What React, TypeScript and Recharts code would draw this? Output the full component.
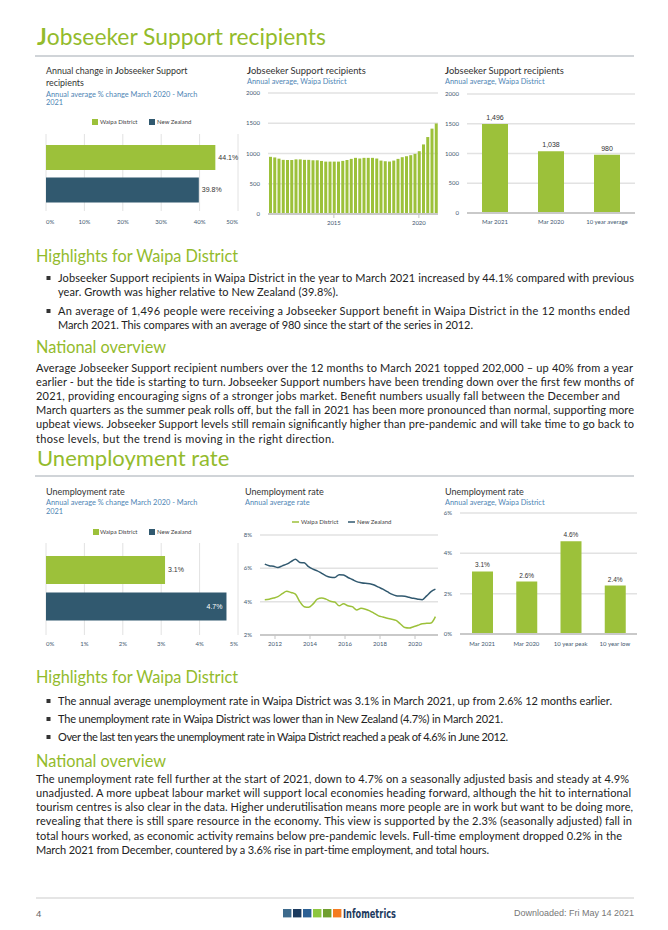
import React from 'react';
import { BarChart, Bar, XAxis, YAxis, CartesianGrid, Cell, LineChart, Line } from 'recharts';

// ---------- DATA ----------
const changeCategories = ['Waipa District', 'New Zealand'];
const jobseekerChange = [44.1, 39.8];
const changeTicks = [0, 10, 20, 30, 40, 50];

const quarters = [
  'Jun 2011', 'Sep 2011', 'Dec 2011', 'Mar 2012', 'Jun 2012', 'Sep 2012', 'Dec 2012', 'Mar 2013',
  'Jun 2013', 'Sep 2013', 'Dec 2013', 'Mar 2014', 'Jun 2014', 'Sep 2014', 'Dec 2014', 'Mar 2015',
  'Jun 2015', 'Sep 2015', 'Dec 2015', 'Mar 2016', 'Jun 2016', 'Sep 2016', 'Dec 2016', 'Mar 2017',
  'Jun 2017', 'Sep 2017', 'Dec 2017', 'Mar 2018', 'Jun 2018', 'Sep 2018', 'Dec 2018', 'Mar 2019',
  'Jun 2019', 'Sep 2019', 'Dec 2019', 'Mar 2020', 'Jun 2020', 'Sep 2020', 'Dec 2020', 'Mar 2021',
];
const jobseekerCounts = [
  945, 935, 915, 895, 893, 893, 903, 903, 895, 895,
  888, 888, 877, 866, 866, 866, 866, 878, 893, 911,
  928, 917, 928, 928, 928, 917, 883, 872, 867, 883,
  911, 939, 955, 972, 994, 1038, 1150, 1272, 1411, 1496,
];
const jobseekerYearTicks = ['Mar 2015', 'Mar 2020'];
const countTicks = [0, 500, 1000, 1500, 2000];

const summaryCategories = ['Mar 2021', 'Mar 2020', '10 year average'];
const summaryValues = [1496, 1038, 980];

const unempChange = [3.1, 4.7];
const unempChangeTicks = [0, 1, 2, 3, 4, 5];

const waipaRate = [
  4.12, 4.15, 4.22, 4.3, 4.48, 4.62, 4.55, 4.45, 4.0, 3.7,
  3.66, 3.85, 4.15, 4.22, 4.15, 4.02, 3.98, 3.75, 3.88, 3.75,
  3.7, 3.5, 3.6, 3.55, 3.45, 3.3, 3.15, 3.08, 3.0, 2.95,
  2.88, 2.66, 2.45, 2.42, 2.5, 2.58, 2.68, 2.7, 2.72, 3.1,
];
const nzRate = [
  6.25, 6.15, 6.12, 6.05, 6.15, 6.25, 6.4, 6.55, 6.35, 6.33,
  6.1, 5.95, 5.85, 5.7, 5.55, 5.47, 5.45, 5.62, 5.6, 5.45,
  5.33, 5.2, 5.14, 5.1, 5.08, 5.0, 4.87, 4.75, 4.6, 4.45,
  4.36, 4.34, 4.32, 4.26, 4.2, 4.15, 4.12, 4.35, 4.6, 4.75,
];
const rateYearTicks = [2012, 2014, 2016, 2018, 2020];
const rateTicks = [2, 4, 6, 8];

const unempSummaryCategories = ['Mar 2021', 'Mar 2020', '10 year peak', '10 year low'];
const unempSummaryValues = [3.1, 2.6, 4.6, 2.4];
const unempSummaryTicks = [0, 2, 4, 6];

// ---------- STYLE ----------
const GREEN = '#9cc13a';
const HEAD_GREEN = '#93bb2c';
const NAVY = '#31596f';
const SUB = '#4f86b5';
const TITLE = '#333333';
const BODY = '#222222';
const TICK = '#3f5870';
const GRID = '#e2e2e2';
const FONT = 'Lato, "Open Sans", sans-serif';
const ARIAL = '"Liberation Sans", Arial, sans-serif';

const monthNum: Record<string, number> = { Mar: 3, Jun: 6, Sep: 9, Dec: 12 };
const toYear = (q: string) => Number(q.slice(4)) + (monthNum[q.slice(0, 3)] - 1) / 12;

const changeData = changeCategories.map((name, i) => ({ name, v: jobseekerChange[i] }));
const unempData = changeCategories.map((name, i) => ({ name, v: unempChange[i] }));
const jobData = quarters.map((q, i) => ({ q, v: jobseekerCounts[i] }));
const summaryData = summaryCategories.map((name, i) => ({ name, v: summaryValues[i] }));
const rateData = quarters.map((q, i) => ({ t: toYear(q), w: waipaRate[i], n: nzRate[i] }));
const unempSummaryData = unempSummaryCategories.map((name, i) => ({ name, v: unempSummaryValues[i] }));

const tickStyle = { fontSize: 6, fill: TICK, fontFamily: FONT };

const EdgeTick = (last: number) => (props: any) => {
  const { x, y, payload } = props;
  const v = payload.value;
  const anchor = v === 0 ? 'start' : v === last ? 'end' : 'middle';
  return (
    <text x={x} y={y} dy="0.71em" textAnchor={anchor} fontSize={6} fill={TICK} fontFamily={FONT}>
      {v}%
    </text>
  );
};

const changeLabel = (insideIdx: number) => (p: any) => {
  const vb = p.viewBox || {};
  const x = p.x ?? vb.x;
  const y = p.y ?? vb.y;
  const width = p.width ?? vb.width;
  const height = p.height ?? vb.height;
  const inside = p.index === insideIdx;
  return (
    <text
      x={inside ? x + width - 4 : x + width + 3}
      y={y + height / 2}
      dy="0.35em"
      textAnchor={inside ? 'end' : 'start'}
      fill={inside ? '#ffffff' : '#333333'}
      fontSize={7}
      fontFamily={ARIAL}
    >
      {Number(p.value).toFixed(1)}%
    </text>
  );
};

const topLabel = (fmt: (v: number) => string, size: number) => (p: any) => {
  const vb = p.viewBox || {};
  const x = p.x ?? vb.x;
  const y = p.y ?? vb.y;
  const width = p.width ?? vb.width;
  return (
    <text x={x + width / 2} y={y - 4} textAnchor="middle" fill="#333333" fontSize={size} fontFamily={ARIAL}>
      {fmt(Number(p.value))}
    </text>
  );
};

// ---------- CHARTS ----------
function ChangeChart({ data, last, ticks, insideIdx, pad }: any) {
  return (
    <BarChart width={245} height={pad.h} data={data} layout="vertical" margin={{ top: 10, right: 7, left: 46, bottom: 0 }}>
      <CartesianGrid horizontal={false} stroke={GRID} strokeWidth={1} />
      <XAxis
        type="number"
        domain={[0, last]}
        ticks={ticks}
        interval={0}
        height={pad.xh}
        axisLine={false}
        tickLine={false}
        tickSize={pad.ts}
        tickMargin={3}
        tick={EdgeTick(last)}
      />
      <YAxis type="category" dataKey="name" hide padding={{ top: pad.top, bottom: pad.bottom }} />
      <Bar dataKey="v" barSize={pad.bar} isAnimationActive={false} label={changeLabel(insideIdx)}>
        {data.map((_: any, i: number) => (
          <Cell key={i} fill={i === 0 ? GREEN : NAVY} />
        ))}
      </Bar>
    </BarChart>
  );
}

function JobseekerSeries() {
  return (
    <BarChart width={215} height={140} data={jobData} margin={{ top: 5, right: 7, left: 0, bottom: 0 }}>
      <CartesianGrid vertical={false} stroke={GRID} strokeWidth={1.5} />
      <XAxis
        dataKey="q"
        ticks={jobseekerYearTicks}
        interval={0}
        tickFormatter={(q: string) => q.slice(4)}
        height={14}
        tick={tickStyle}
        tickSize={4}
        tickMargin={3}
        tickLine={{ stroke: '#c4c4c4' }}
        axisLine={{ stroke: '#c9c9c9', strokeWidth: 2 }}
      />
      <YAxis width={38} domain={[0, 2000]} ticks={countTicks} interval={0} tick={tickStyle} axisLine={false} tickLine={false} />
      <Bar dataKey="v" fill={GREEN} barSize={3} isAnimationActive={false} />
    </BarChart>
  );
}

function SummaryChart() {
  return (
    <BarChart width={210} height={140} data={summaryData} margin={{ top: 5, right: 5, left: 0, bottom: 0 }}>
      <CartesianGrid vertical={false} stroke={GRID} strokeWidth={1.5} />
      <XAxis
        dataKey="name"
        interval={0}
        height={16}
        tick={tickStyle}
        tickSize={4}
        tickMargin={3}
        tickLine={false}
        axisLine={{ stroke: '#c9c9c9', strokeWidth: 2 }}
      />
      <YAxis width={37} domain={[0, 2000]} ticks={countTicks} interval={0} tick={tickStyle} axisLine={false} tickLine={false} />
      <Bar dataKey="v" fill={GREEN} barSize={26} isAnimationActive={false} label={topLabel((v) => v.toLocaleString('en-US'), 7)} />
    </BarChart>
  );
}

function RateChart() {
  return (
    <LineChart width={225} height={125} data={rateData} margin={{ top: 5, right: 7, left: 0, bottom: 0 }}>
      <CartesianGrid vertical={false} stroke={GRID} strokeWidth={1.5} />
      <XAxis
        type="number"
        dataKey="t"
        domain={[2011.143, 2021.314]}
        allowDataOverflow
        ticks={rateYearTicks}
        interval={0}
        height={20}
        tick={tickStyle}
        tickSize={4}
        tickMargin={3}
        tickLine={{ stroke: '#c4c4c4' }}
        axisLine={{ stroke: '#c9c9c9', strokeWidth: 2 }}
      />
      <YAxis
        width={40}
        domain={[2, 8]}
        ticks={rateTicks}
        interval={0}
        tickFormatter={(v: number) => `${v}%`}
        tick={tickStyle}
        axisLine={false}
        tickLine={false}
      />
      <Line dataKey="n" stroke={NAVY} strokeWidth={1.5} dot={false} type="monotone" isAnimationActive={false} />
      <Line dataKey="w" stroke={GREEN} strokeWidth={1.5} dot={false} type="monotone" isAnimationActive={false} />
    </LineChart>
  );
}

function UnempSummaryChart() {
  return (
    <BarChart width={222} height={145} data={unempSummaryData} margin={{ top: 5, right: 5, left: 0, bottom: 0 }}>
      <CartesianGrid vertical={false} stroke={GRID} strokeWidth={1.5} />
      <XAxis
        dataKey="name"
        interval={0}
        height={19}
        tick={tickStyle}
        tickSize={5}
        tickMargin={3}
        tickLine={false}
        axisLine={{ stroke: '#c9c9c9', strokeWidth: 2 }}
      />
      <YAxis
        width={40}
        domain={[0, 6]}
        ticks={unempSummaryTicks}
        interval={0}
        tickFormatter={(v: number) => `${v}%`}
        tick={tickStyle}
        axisLine={false}
        tickLine={false}
      />
      <Bar dataKey="v" fill={GREEN} barSize={21} isAnimationActive={false} label={topLabel((v) => `${v.toFixed(1)}%`, 6.5)} />
    </BarChart>
  );
}

// ---------- TEXT ----------
const jobBullets: [string, number, number][][] = [
  [
    ['Jobseeker Support recipients in Waipa District in the year to March 2021 increased by 44.1% compared with previous', 634, 278],
    ['year. Growth was higher relative to New Zealand (39.8%).', 338, 292.5],
  ],
  [
    ['An average of 1,496 people were receiving a Jobseeker Support benefit in Waipa District in the 12 months ended', 630, 311],
    ['March 2021. This compares with an average of 980 since the start of the series in 2012.', 473, 325],
  ],
];
const jobOverview: [string, number, number][] = [
  ['Average Jobseeker Support recipient numbers over the 12 months to March 2021 topped 202,000 \u2013 up 40% from a year', 633, 368],
  ['earlier - but the tide is starting to turn. Jobseeker Support numbers have been trending down over the first few months of', 634, 382.2],
  ['2021, providing encouraging signs of a stronger jobs market. Benefit numbers usually fall between the December and', 620, 396.4],
  ['March quarters as the summer peak rolls off, but the fall in 2021 has been more pronounced than normal, supporting more', 634, 410.6],
  ['upbeat views. Jobseeker Support levels still remain significantly higher than pre-pandemic and will take time to go back to', 634, 424.8],
  ['those levels, but the trend is moving in the right direction.', 334, 439],
];
const unempBullets: [string, number, number][] = [
  ['The annual average unemployment rate in Waipa District was 3.1% in March 2021, up from 2.6% 12 months earlier.', 612, 701],
  ['The unemployment rate in Waipa District was lower than in New Zealand (4.7%) in March 2021.', 503, 719],
  ['Over the last ten years the unemployment rate in Waipa District reached a peak of 4.6% in June 2012.', 508, 737],
];
const unempOverview: [string, number, number][] = [
  ['The unemployment rate fell further at the start of 2021, down to 4.7% on a seasonally adjusted basis and steady at 4.9%', 629, 779],
  ['unadjusted. A more upbeat labour market will support local economies heading forward, although the hit to international', 631, 793],
  ['tourism centres is also clear in the data. Higher underutilisation means more people are in work but want to be doing more,', 633, 807.5],
  ['revealing that there is still spare resource in the economy. This view is supported by the 2.3% (seasonally adjusted) fall in', 632, 821.5],
  ['total hours worked, as economic activity remains below pre-pandemic levels. Full-time employment dropped 0.2% in the', 622, 836],
  ['March 2021 from December, countered by a 3.6% rise in part-time employment, and total hours.', 489, 850],
];

const BodyLine = ({ x, text, end, cy }: { x: number; text: string; end: number; cy: number }) => (
  <text x={x} y={cy + 3.6} fontSize={11} fill={BODY} fontFamily={FONT} textLength={end - x} lengthAdjust="spacing">
    {text}
  </text>
);

const Bullet = ({ cy }: { cy: number }) => <rect x={46.5} y={cy - 2} width={4} height={4} fill="#333" />;

const logoColors = ['#3d6a8c', '#1b3a5e', '#2b5f93', '#8cc63f', '#6f9e2e', '#f47b20'];

function Overlay() {
  return (
    <svg width={668} height={930} style={{ position: 'absolute', left: 0, top: 0 }}>
      {/* Section 1 title */}
      <text x={37} y={45} fontSize={22.8} fill={HEAD_GREEN} fontFamily={FONT}>
        <tspan fontWeight={700}>J</tspan>obseeker Support recipients
      </text>
      <rect x={35} y={55} width={599} height={2} fill="#d0d4d8" />

      {/* Panel 1 titles */}
      <text x={46} y={74} fontSize={8.9} fill={TITLE} fontFamily={FONT}>
        Annual change in <tspan fontWeight={700}>J</tspan>obseeker Support
      </text>
      <text x={46} y={86} fontSize={8.9} fill={TITLE} fontFamily={FONT}>recipients</text>
      <text x={46} y={96.6} fontSize={7.4} fill={SUB} fontFamily={FONT}>Annual average % change March 2020 - March</text>
      <text x={46} y={104.6} fontSize={7.4} fill={SUB} fontFamily={FONT}>2021</text>
      <rect x={92} y={119} width={6} height={6} fill={GREEN} />
      <text x={100} y={124} fontSize={6} fill="#444" fontFamily={FONT}>Waipa District</text>
      <rect x={149} y={119} width={6} height={6} fill={NAVY} />
      <text x={157} y={124} fontSize={6} fill="#444" fontFamily={FONT}>New Zealand</text>

      {/* Panel 2 titles */}
      <text x={247} y={74} fontSize={9.4} fill={TITLE} fontFamily={FONT}>
        <tspan fontWeight={700}>J</tspan>obseeker Support recipients
      </text>
      <text x={247} y={83.6} fontSize={7.4} fill={SUB} fontFamily={FONT}>Annual average, Waipa District</text>

      {/* Panel 3 titles */}
      <text x={445} y={74} fontSize={9.4} fill={TITLE} fontFamily={FONT}>
        <tspan fontWeight={700}>J</tspan>obseeker Support recipients
      </text>
      <text x={445} y={83.6} fontSize={7.4} fill={SUB} fontFamily={FONT}>Annual average, Waipa District</text>

      {/* Highlights 1 */}
      <text x={36} y={262} fontSize={16.3} fill={HEAD_GREEN} fontFamily={FONT}>Highlights for Waipa District</text>
      {jobBullets.map((b, bi) => (
        <g key={bi}>
          <Bullet cy={b[0][2]} />
          {b.map(([t, e, cy], li) => (
            <BodyLine key={li} x={58} text={t} end={e} cy={cy} />
          ))}
        </g>
      ))}
      <text x={36} y={353} fontSize={16.3} fill={HEAD_GREEN} fontFamily={FONT}>National overview</text>
      {jobOverview.map(([t, e, cy], i) => (
        <BodyLine key={i} x={36} text={t} end={e} cy={cy} />
      ))}

      {/* Section 2 title */}
      <text x={37} y={466} fontSize={22} fill={HEAD_GREEN} fontFamily={FONT}>Unemployment rate</text>
      <rect x={35} y={475} width={599} height={2} fill="#d0d4d8" />

      {/* Panel 4 titles */}
      <text x={46} y={495.3} fontSize={9} fill={TITLE} fontFamily={FONT}>Unemployment rate</text>
      <text x={46} y={504.6} fontSize={7.4} fill={SUB} fontFamily={FONT}>Annual average % change March 2020 - March</text>
      <text x={46} y={513.6} fontSize={7.4} fill={SUB} fontFamily={FONT}>2021</text>
      <rect x={93} y={529} width={6} height={6} fill={GREEN} />
      <text x={100} y={534} fontSize={6} fill="#444" fontFamily={FONT}>Waipa District</text>
      <rect x={149} y={529} width={6} height={6} fill={NAVY} />
      <text x={157} y={534} fontSize={6} fill="#444" fontFamily={FONT}>New Zealand</text>

      {/* Panel 5 titles */}
      <text x={245} y={495.3} fontSize={9} fill={TITLE} fontFamily={FONT}>Unemployment  rate</text>
      <text x={245} y={504.6} fontSize={7.4} fill={SUB} fontFamily={FONT}>Annual average rate</text>
      <line x1={292} x2={299} y1={522} y2={522} stroke={GREEN} strokeWidth={1.5} />
      <text x={301} y={524} fontSize={6} fill="#444" fontFamily={FONT}>Waipa District</text>
      <line x1={348} x2={355} y1={522} y2={522} stroke={NAVY} strokeWidth={1.5} />
      <text x={357} y={524} fontSize={6} fill="#444" fontFamily={FONT}>New Zealand</text>

      {/* Panel 6 titles */}
      <text x={445} y={495.3} fontSize={9} fill={TITLE} fontFamily={FONT}>Unemployment  rate</text>
      <text x={445} y={504.6} fontSize={7.4} fill={SUB} fontFamily={FONT}>Annual average, Waipa District</text>

      {/* Highlights 2 */}
      <text x={36} y={683} fontSize={16.3} fill={HEAD_GREEN} fontFamily={FONT}>Highlights for Waipa District</text>
      {unempBullets.map(([t, e, cy], i) => (
        <g key={i}>
          <Bullet cy={cy} />
          <BodyLine x={58} text={t} end={e} cy={cy} />
        </g>
      ))}
      <text x={36} y={767} fontSize={16.3} fill={HEAD_GREEN} fontFamily={FONT}>National overview</text>
      {unempOverview.map(([t, e, cy], i) => (
        <BodyLine key={i} x={36} text={t} end={e} cy={cy} />
      ))}

      {/* Footer */}
      <rect x={36} y={897.5} width={598} height={1} fill="#cccccc" />
      <text x={36} y={916.5} fontSize={9.5} fill="#666" fontFamily={ARIAL}>4</text>
      {logoColors.map((c, i) => (
        <rect key={i} x={283 + i * 10} y={909} width={8.4} height={8.4} fill={c} />
      ))}
      <text
        x={343}
        y={918}
        fontSize={13}
        fontWeight={700}
        fill="#1d3b5e"
        fontFamily={'"Liberation Sans Narrow", "DejaVu Sans Condensed", sans-serif'}
        textLength={53}
        lengthAdjust="spacingAndGlyphs"
      >
        Infometrics
      </text>
      <text x={634} y={916} fontSize={9} fill="#777" fontFamily={ARIAL} textAnchor="end">
        Downloaded: Fri May 14 2021
      </text>
    </svg>
  );
}

export default function App() {
  return (
    <div style={{ position: 'absolute', left: 0, top: 0, width: 668, height: 930, background: '#fff', overflow: 'hidden', fontFamily: FONT }}>
      <Overlay />
      <div style={{ position: 'absolute', left: 0, top: 124 }}>
        <ChangeChart data={changeData} last={50} ticks={changeTicks} insideIdx={-1} pad={{ h: 110, xh: 23, ts: 6, top: 7, bottom: 5, bar: 25 }} />
      </div>
      <div style={{ position: 'absolute', left: 230, top: 88 }}>
        <JobseekerSeries />
      </div>
      <div style={{ position: 'absolute', left: 430, top: 89 }}>
        <SummaryChart />
      </div>
      <div style={{ position: 'absolute', left: 0, top: 533 }}>
        <ChangeChart data={unempData} last={5} ticks={unempChangeTicks} insideIdx={1} pad={{ h: 122, xh: 20, ts: 4, top: 9, bottom: 10, bar: 28 }} />
      </div>
      <div style={{ position: 'absolute', left: 220, top: 530 }}>
        <RateChart />
      </div>
      <div style={{ position: 'absolute', left: 420, top: 508 }}>
        <UnempSummaryChart />
      </div>
    </div>
  );
}
